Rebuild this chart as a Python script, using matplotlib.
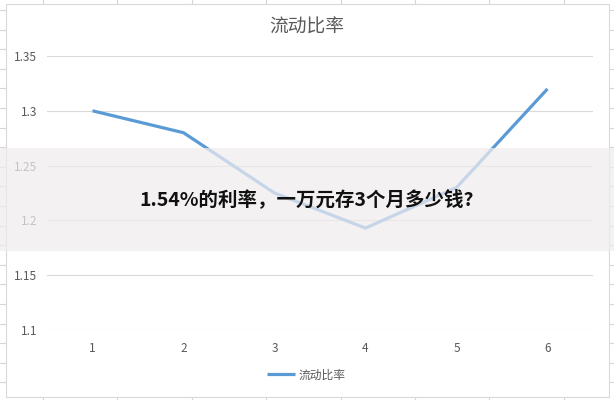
import matplotlib
matplotlib.use("Agg")
import matplotlib.pyplot as plt
from matplotlib.patches import Rectangle
from matplotlib.lines import Line2D

plt.rcParams["font.family"] = ["Noto Sans CJK SC", "DejaVu Sans"]

# data
periods = [1, 2, 3, 4, 5, 6]
ratio = [1.30, 1.28, 1.225, 1.193, 1.23, 1.32]
y_ticks = [1.1, 1.15, 1.2, 1.25, 1.3, 1.35]
y_labels = ["1.1", "1.15", "1.2", "1.25", "1.3", "1.35"]
title = "流动比率"
series_name = "流动比率"
overlay_text = "1.54%的利率，一万元存3个月多少钱?"

W, H = 614, 400
fig = plt.figure(figsize=(W / 100, H / 100), dpi=100)


def fx(px):
    return px / W


def fy(py):
    return 1 - py / H


# spreadsheet cell grid behind the chart
grid_c = "#d6d6d6"
for i in range(9):
    x = 43 + i * 74.4
    fig.add_artist(Line2D([fx(x), fx(x)], [0, 1], color=grid_c, lw=0.8, zorder=-3))
for j in range(21):
    y = 10 + j * 19.6
    fig.add_artist(Line2D([0, 1], [fy(y), fy(y)], color=grid_c, lw=0.8, zorder=-3))

# chart area
fig.add_artist(Rectangle((fx(6), fy(397)), fx(603), 393 / H, facecolor="white",
                         edgecolor="#d9d9d9", lw=0.8, zorder=-2))

ax = fig.add_axes([fx(47), fy(330), fx(546), 274 / H])
ax.set_facecolor("none")
ax.plot(periods, ratio, color="#5b9bd5", lw=2.3, solid_capstyle="butt", label=series_name)
ax.set_xlim(0.5, 6.5)
ax.set_ylim(1.1, 1.35)
ax.set_yticks(y_ticks)
ax.set_yticklabels(y_labels)
ax.set_xticks(periods)
ax.yaxis.grid(True, color="#d9d9d9", lw=0.8)
ax.set_axisbelow(True)
for s in ax.spines.values():
    s.set_visible(False)
ax.tick_params(length=0, colors="#595959", labelsize=8.5)
ax.tick_params(axis="y", pad=7)
ax.tick_params(axis="x", pad=9)

fig.text(fx(307), fy(27), title, ha="center", va="center", fontsize=13.5, color="#595959")

fig.legend(loc="center", bbox_to_anchor=(fx(306), fy(375)), frameon=False,
           fontsize=8.5, handlelength=2.4, handletextpad=0.3, labelcolor="#595959")

# overlay band with headline
fig.add_artist(Rectangle((0, fy(251)), 1, 103 / H, facecolor="#f0ecef",
                         edgecolor="none", alpha=0.72, zorder=5))
fig.text(fx(307), fy(199), overlay_text, ha="center", va="center", fontsize=14,
         fontweight="bold", color="#111111", zorder=6)

fig.savefig("out.png", dpi=100)
